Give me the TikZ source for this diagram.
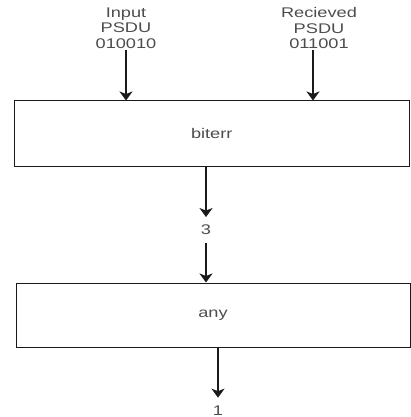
\documentclass[tikz,border=0pt]{standalone}
\usepackage{fontspec}
\setmainfont{Liberation Sans}[FakeStretch=1.3]
\usepackage{tikz}
\usetikzlibrary{positioning,arrows.meta,calc}
\definecolor{ink}{HTML}{1A1A1A}
\definecolor{label}{HTML}{4D4D4D}

\begin{document}
\begin{tikzpicture}[x=1pt,y=-1pt,
  font=\fontsize{14}{15.5}\selectfont,
  blockbox/.style={draw=ink,line width=1pt,inner sep=0pt,text=label},
  txt/.style={inner sep=0pt,outer sep=1.5pt,text=label,align=center},
  numtxt/.style={inner sep=0pt,outer sep=8pt,text=label},
  flow/.style={draw=ink,line width=1.6pt,-{Stealth[length=9pt,width=13pt,inset=2.5pt]}}]
\useasboundingbox (0,0) rectangle (410,417);

% Input words
\node[txt] (input) at (126,28) {Input\\PSDU\\010010};
\node[txt] (recv) at (319,28) {Recieved\\PSDU\\011001};

% Blocks
\node[blockbox,minimum width=395.5pt,minimum height=65pt] (biterr) at (211.75,133.5) {biterr};
\node[blockbox,minimum width=394pt,minimum height=64pt] (any) at (213,315) {any};

% Results
\node[numtxt] (out3) at (206,230) {3};
\node[numtxt] (out1) at (218,410.5) {1};

% Arrows
\draw[flow] (input.south) -- (input.south |- biterr.north);
\draw[flow] ([xshift=-6pt]recv.south) -- ([xshift=-6pt]recv.south |- biterr.north);
\draw[flow] (biterr.south -| out3) -- (out3.north);
\draw[flow] (out3.south) -- (out3.south |- any.north);
\draw[flow] (any.south -| out1) -- (out1.north);

\end{tikzpicture}
\end{document}
